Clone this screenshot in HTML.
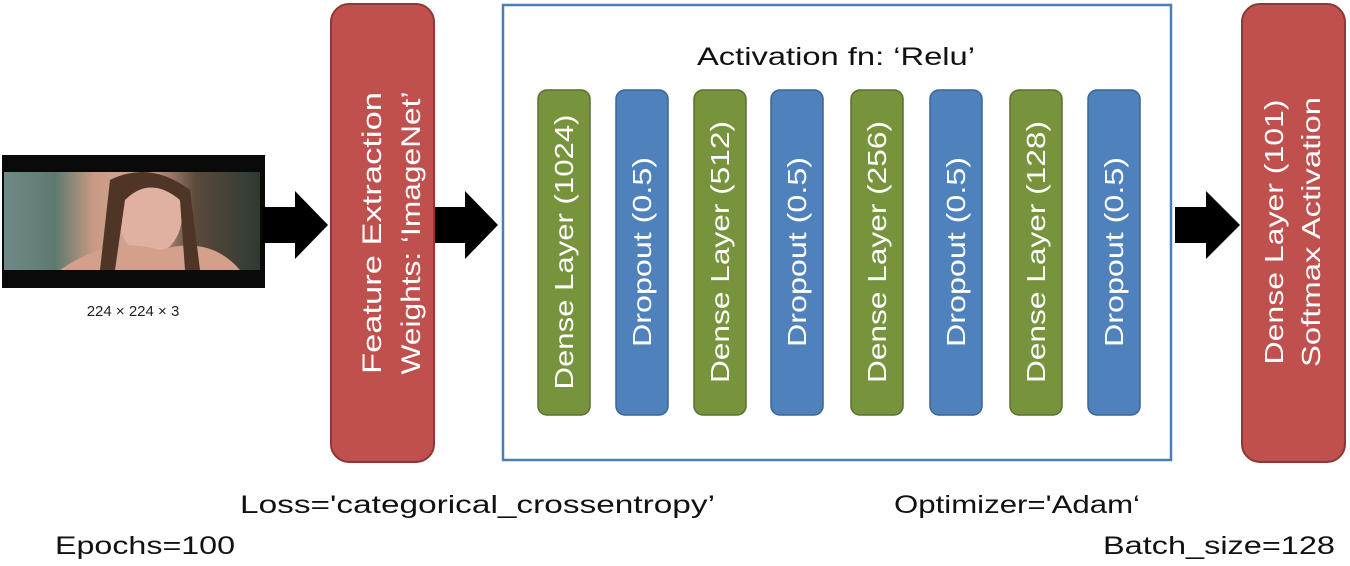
<!DOCTYPE html>
<html><head><meta charset="utf-8"><style>
html,body{margin:0;padding:0;background:#fff;}
svg{display:block;font-family:"Liberation Sans",sans-serif;}
</style></head><body>
<svg width="1350" height="566" viewBox="0 0 1350 566" xmlns="http://www.w3.org/2000/svg">
<defs>
<linearGradient id="ph" x1="0" x2="1" y1="0" y2="0">
<stop offset="0" stop-color="#6f8a88"/><stop offset="0.2" stop-color="#5d7a70"/>
<stop offset="0.35" stop-color="#c89a84"/><stop offset="0.55" stop-color="#d8a898"/>
<stop offset="0.75" stop-color="#5a4a3a"/><stop offset="1" stop-color="#2e3a34"/>
</linearGradient>
</defs>
<rect x="2" y="155" width="263" height="133" fill="#0a0a0a"/>
<rect x="4" y="172" width="256" height="98" fill="url(#ph)"/>
<ellipse cx="150" cy="215" rx="32" ry="40" fill="#e0b0a0"/>
<path d="M60 270 Q110 235 160 250 Q210 235 240 270 Z" fill="#d4a08c"/>
<path d="M110 180 Q150 160 190 190 L200 270 L185 270 L180 200 Q150 175 125 200 L115 270 L100 270 Z" fill="#4e3526"/>
<text x="133" y="316" font-size="15" text-anchor="middle" fill="#222">224 × 224 × 3</text>
<polygon points="262,207 295,207 295,191 328,225 295,259 295,243 262,243" fill="#000"/>
<polygon points="434,207 465,207 465,191 498,225 465,259 465,243 434,243" fill="#000"/>
<polygon points="1175,207 1206,207 1206,191 1240,225 1206,259 1206,243 1175,243" fill="#000"/>
<rect x="331" y="4" width="103" height="458" rx="18" fill="#c0504d" stroke="#8c3836" stroke-width="2"/>
<text transform="translate(381,233) rotate(-90)" font-size="27" fill="#fff" text-anchor="middle" textLength="282" lengthAdjust="spacingAndGlyphs">Feature Extraction</text>
<text transform="translate(420,233) rotate(-90)" font-size="27" fill="#fff" text-anchor="middle" textLength="283" lengthAdjust="spacingAndGlyphs">Weights: ‘ImageNet’</text>
<rect x="503" y="5" width="668" height="455" fill="#fff" stroke="#4a7ebb" stroke-width="2.5"/>
<text x="836" y="65" font-size="25" text-anchor="middle" fill="#111" textLength="278" lengthAdjust="spacingAndGlyphs">Activation fn: ‘Relu’</text>
<g stroke-width="1.5">
<rect x="538" y="90" width="52" height="325" rx="9" fill="#77933c" stroke="#5a7030"/>
<rect x="616" y="90" width="52" height="325" rx="9" fill="#4f81bd" stroke="#3a6496"/>
<rect x="694" y="90" width="52" height="325" rx="9" fill="#77933c" stroke="#5a7030"/>
<rect x="771" y="90" width="52" height="325" rx="9" fill="#4f81bd" stroke="#3a6496"/>
<rect x="851" y="90" width="52" height="325" rx="9" fill="#77933c" stroke="#5a7030"/>
<rect x="930" y="90" width="52" height="325" rx="9" fill="#4f81bd" stroke="#3a6496"/>
<rect x="1010" y="90" width="52" height="325" rx="9" fill="#77933c" stroke="#5a7030"/>
<rect x="1088" y="90" width="52" height="325" rx="9" fill="#4f81bd" stroke="#3a6496"/>
</g>
<g font-size="26" fill="#fff" text-anchor="middle">
<text transform="translate(573,252) rotate(-90)" textLength="275" lengthAdjust="spacingAndGlyphs">Dense Layer (1024)</text>
<text transform="translate(651,252) rotate(-90)" textLength="190" lengthAdjust="spacingAndGlyphs">Dropout (0.5)</text>
<text transform="translate(729,252) rotate(-90)" textLength="262" lengthAdjust="spacingAndGlyphs">Dense Layer (512)</text>
<text transform="translate(806,252) rotate(-90)" textLength="190" lengthAdjust="spacingAndGlyphs">Dropout (0.5)</text>
<text transform="translate(886,252) rotate(-90)" textLength="262" lengthAdjust="spacingAndGlyphs">Dense Layer (256)</text>
<text transform="translate(965,252) rotate(-90)" textLength="190" lengthAdjust="spacingAndGlyphs">Dropout (0.5)</text>
<text transform="translate(1045,252) rotate(-90)" textLength="262" lengthAdjust="spacingAndGlyphs">Dense Layer (128)</text>
<text transform="translate(1123,252) rotate(-90)" textLength="190" lengthAdjust="spacingAndGlyphs">Dropout (0.5)</text>
</g>
<rect x="1242" y="4" width="103" height="458" rx="18" fill="#c0504d" stroke="#8c3836" stroke-width="2"/>
<text transform="translate(1283,232) rotate(-90)" font-size="26" fill="#fff" text-anchor="middle" textLength="265" lengthAdjust="spacingAndGlyphs">Dense Layer (101)</text>
<text transform="translate(1320,232) rotate(-90)" font-size="26" fill="#fff" text-anchor="middle" textLength="270" lengthAdjust="spacingAndGlyphs">Softmax Activation</text>
<g font-size="25" fill="#111">
<text x="240" y="513" textLength="475" lengthAdjust="spacingAndGlyphs">Loss='categorical_crossentropy’</text>
<text x="894" y="513" textLength="246" lengthAdjust="spacingAndGlyphs">Optimizer='Adam‘</text>
<text x="55" y="554" textLength="180" lengthAdjust="spacingAndGlyphs">Epochs=100</text>
<text x="1103" y="554" textLength="232" lengthAdjust="spacingAndGlyphs">Batch_size=128</text>
</g>
</svg>
</body></html>
